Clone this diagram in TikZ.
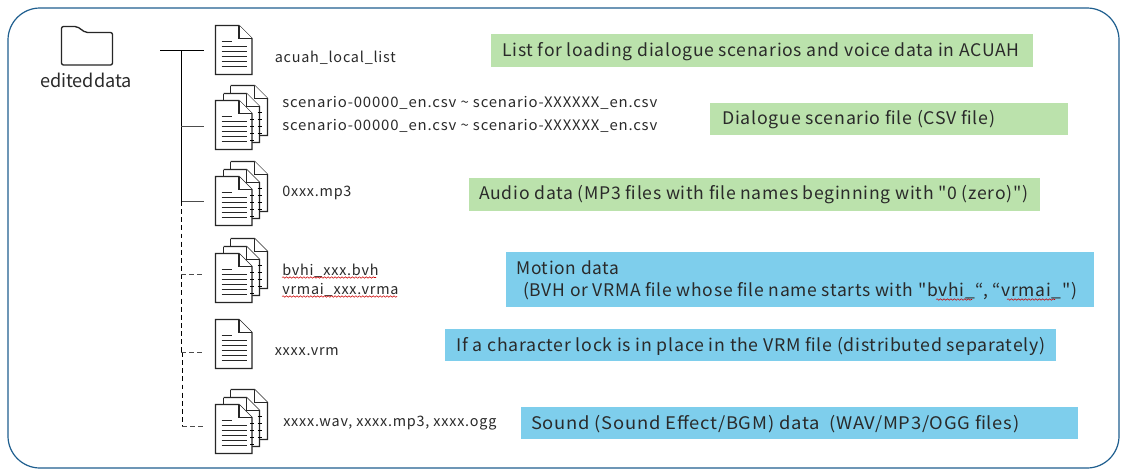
\documentclass[tikz,border=0pt]{standalone}
\usepackage{graphicx}
\usepackage{fontspec}
\setmainfont{Noto Sans CJK JP}
\newfontfamily\fnamefont[LetterSpace=5.5]{Noto Sans CJK JP}
\newfontfamily\descfont[LetterSpace=4]{Noto Sans CJK JP}
\usetikzlibrary{decorations.pathmorphing}
\definecolor{boxgreen}{HTML}{BBE2AC}
\definecolor{boxblue}{HTML}{7ECEEC}
\definecolor{frameblue}{HTML}{1F5F8F}
\definecolor{txt}{HTML}{2A2A2A}
\newdimen\fitunit \fitunit=0.75pt
\newcommand{\fitw}[2]{\resizebox{#1\fitunit}{\height}{#2}}
\tikzset{
  x=0.75pt,y=-0.75pt,
  icon/.style={draw=black!85,line width=0.95pt,fill=white,line join=miter},
  tick/.style={draw=black,line width=0.75pt},
  conn/.style={draw=black,line width=0.75pt},
  connd/.style={conn,dash pattern=on 3.7pt off 2.4pt},
  fname/.style={anchor=west,inner sep=0pt,yshift=-0.75pt,font=\fnamefont\fontsize{10.8pt}{12pt}\selectfont,text=txt},
  desc/.style={anchor=west,inner sep=0pt,yshift=-0.75pt,font=\descfont\fontsize{13pt}{15pt}\selectfont,text=txt},
  wavy/.style={draw=red!80!black,line width=0.4pt,decorate,decoration={snake,amplitude=0.55pt,segment length=2.6pt}},
  docpic/.pic={
    \draw[icon] (0,0) -- (23.5,0) -- (36.5,13) -- (36.5,49) -- (0,49) -- cycle;
    \draw[icon] (23.5,0) -- (23.5,13) -- (36.5,13);
    \draw[icon,line width=0.8pt] (6,16) -- (16.5,16) (6,21) -- (31,21) (6,26) -- (31,26) (6,31) -- (31,31) (6,36) -- (31,36) (6,41) -- (31,41);
  },
  stackpic/.pic={
    \draw[icon] (15,-15) -- (39,-15) -- (52,-2) -- (52,35) -- (36,35);
    \draw[icon] (15,-15) -- (15,-8) (39,-15) -- (39,-2) -- (52,-2);
    \draw[icon] (8,-7) -- (31,-7) -- (44,6) -- (44,42) -- (36,42);
    \draw[icon] (8,-7) -- (8,0) (31,-7) -- (31,6) -- (44,6);
    \draw[tick] (42,12) -- (46,12) (42,19) -- (46,19) (42,26) -- (46,26) (42,33) -- (46,33);
    \draw[icon] (0,0) -- (23.5,0) -- (36.5,13) -- (36.5,49) -- (0,49) -- cycle;
    \draw[icon] (23.5,0) -- (23.5,13) -- (36.5,13);
    \draw[icon,line width=0.8pt] (6,16) -- (16.5,16) (6,21) -- (31,21) (6,26) -- (31,26) (6,31) -- (31,31) (6,36) -- (31,36) (6,41) -- (31,41);
    \draw[tick] (34.5,19) -- (38.5,19) (34.5,26) -- (38.5,26) (34.5,33) -- (38.5,33) (34.5,40) -- (38.5,40);
  }
}
\begin{document}
\begin{tikzpicture}
\useasboundingbox (0,0) rectangle (1127,475);
\fill[white] (0,0) rectangle (1127,475);
\draw[frameblue,line width=0.9pt,rounded corners=24pt] (8,8) rectangle (1119,468);

% folder
\draw[icon,line width=1pt,rounded corners=1.5pt] (61.5,65) -- (61.5,26.5) -- (77,26.5) -- (85.5,32.5) -- (112.5,32.5) -- (112.5,65) -- cycle;
\node[inner sep=0pt,font=\fontsize{13.6pt}{15pt}\selectfont,text=txt] (folder) at (86,80) {editeddata};

% icons
\pic at (215.5,25.5) {docpic};
\pic at (215.5,100.5) {stackpic};
\pic at (215.5,176.5) {stackpic};
\pic at (215.5,253.5) {stackpic};
\pic at (215.5,319.5) {docpic};
\pic at (215.5,404.5) {stackpic};

% tree
\coordinate (rootl) at (160,50);
\coordinate (rootr) at (204,50);
\coordinate (t0) at (181,50);
\coordinate (t1) at (181,126);
\coordinate (t2) at (181,201);
\coordinate (t3) at (181,274);
\coordinate (t4) at (181,352);
\coordinate (t5) at (182,426);
\coordinate (t5a) at (182,352);
\coordinate (e1) at (204,126);
\coordinate (e2) at (204,201);
\coordinate (e3) at (205,274);
\coordinate (e4) at (205,352);
\coordinate (e5) at (206,426);
\draw[conn] (rootl) -- (rootr);
\draw[conn] (t0) -- (t2);
\draw[conn,black!70] (t1) -- (e1);
\draw[conn,black!70] (t2) -- (e2);
\draw[connd] (t2) -- (t4);
\draw[connd] (t5a) -- (t5);
\draw[connd,black!70] (t3) -- (e3);
\draw[connd,black!70] (t4) -- (e4);
\draw[connd,black!70] (t5) -- (e5);

% file names
\node[fname] (n1) at (274.5,57) {acuah\_local\_list};
\node[fname] (n2a) at (282,102) {\fitw{375}{scenario-00000\_en.csv \textasciitilde{} scenario-XXXXXX\_en.csv}};
\node[fname] (n2b) at (282,124.5) {\fitw{375}{scenario-00000\_en.csv \textasciitilde{} scenario-XXXXXX\_en.csv}};
\node[fname] (n3) at (282,192) {0xxx.mp3};
\node[fname] (n4a) at (282,270) {bvhi\_xxx.bvh};
\node[fname] (n4b) at (282,289) {vrmai\_xxx.vrma};
\node[fname] (n5) at (274.5,351) {xxxx.vrm};
\node[fname] (n6) at (283,422) {xxxx.wav, xxxx.mp3, xxxx.ogg};
\coordinate (w1a) at (282,277.5); \coordinate (w1b) at (376,277.5);
\coordinate (w2a) at (282,296.5); \coordinate (w2b) at (397,296.5);
\draw[wavy] (w1a) -- (w1b);
\draw[wavy] (w2a) -- (w2b);

% description boxes
\fill[boxgreen] (491,34) rectangle (1033,67);
\node[desc] (b1) at (502,50.5) {\fitw{517}{List for loading dialogue scenarios and voice data in ACUAH}};
\fill[boxgreen] (710,103) rectangle (1068,135);
\node[desc] (b2) at (722,118.5) {\fitw{273}{Dialogue scenario file (CSV file)}};
\fill[boxgreen] (469,178) rectangle (1040,211);
\node[desc] (b3) at (479,194) {\fitw{549}{Audio data (MP3 files with file names beginning with "0 (zero)")}};
\fill[boxblue] (506,252) rectangle (1094,307);
\node[desc] (b4a) at (516,266.5) {\fitw{103}{Motion data}};
\node[desc] (b4b) at (523,290.5) {\fitw{554}{(BVH or VRMA file whose file name starts with "bvhi\_“, “vrmai\_")}};
\coordinate (w3a) at (936,299.5); \coordinate (w3b) at (972,299.5);
\coordinate (w4a) at (1007,299.5); \coordinate (w4b) at (1055,299.5);
\draw[wavy] (w3a) -- (w3b);
\draw[wavy] (w4a) -- (w4b);
\fill[boxblue] (445,329) rectangle (1056,361);
\node[desc] (b5) at (456,345) {\fitw{589}{If a character lock is in place in the VRM file (distributed separately)}};
\fill[boxblue] (521,407) rectangle (1078,439);
\node[desc] (b6) at (531,423) {\fitw{488}{Sound (Sound Effect/BGM) data\ \ (WAV/MP3/OGG files)}};
\end{tikzpicture}
\end{document}
